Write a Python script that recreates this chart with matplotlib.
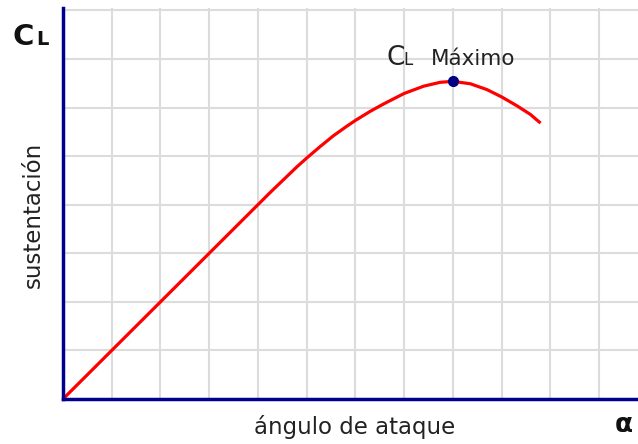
import numpy as np
import matplotlib.pyplot as plt

# curva de sustentacion
alpha = [0, 1, 2, 3, 4, 4.25, 4.52, 4.8, 5.0, 5.28, 5.55, 5.83, 6.0, 6.3,
         6.58, 7.0, 7.4, 7.74, 8.0, 8.36, 8.7, 9.0, 9.31, 9.59, 9.8]
cl = [0, 1, 2, 3, 4.0, 4.25, 4.51, 4.78, 4.96, 5.20, 5.42, 5.62, 5.735, 5.92,
      6.075, 6.29, 6.44, 6.52, 6.54, 6.49, 6.37, 6.22, 6.04, 5.86, 5.68]
alpha_max = 8
cl_max = 6.54

W, H = 638, 444
fig = plt.figure(figsize=(W / 100, H / 100), dpi=100)
ax = fig.add_axes([63 / W, 1 - 399 / H, 1 - 63 / W, (399 - 8) / H])

ax.set_xlim(0, 11.8)
ax.set_ylim(0, 8.05)
ax.set_xticks(np.arange(1, 12))
ax.set_yticks(np.arange(1, 9))
ax.tick_params(length=0, labelbottom=False, labelleft=False)
ax.grid(True, color='#dcdcdc', lw=1.5)
ax.set_axisbelow(True)

for s in ['top', 'right']:
    ax.spines[s].set_visible(False)
for s in ['left', 'bottom']:
    ax.spines[s].set_color('#00008b')
    ax.spines[s].set_linewidth(2.5)

ax.plot(alpha, cl, color='#ff0000', lw=2.3, solid_capstyle='butt',
        solid_joinstyle='round', clip_on=False)
ax.plot(alpha_max, cl_max, 'o', color='#000080', ms=7, zorder=5)

def px(x, y):
    return x / W, 1 - y / H

# textos
fig.text(*px(13, 45), 'C', fontsize=21, fontweight='bold', color='#111111', va='baseline')
fig.text(*px(36, 45), 'L', fontsize=14, fontweight='bold', color='#111111', va='baseline')

fig.text(*px(386, 65), 'C', fontsize=19, color='#222222', va='baseline')
fig.text(*px(403, 65), 'L', fontsize=12, color='#222222', va='baseline')
fig.text(*px(431, 65), 'Máximo', fontsize=15.5, color='#222222', va='baseline')

fig.text(*px(33, 215), 'sustentación', fontsize=16.5, color='#222222',
         rotation=90, ha='center', va='center')
fig.text(*px(355, 427), 'ángulo de ataque', fontsize=16.5, color='#222222',
         ha='center', va='center')
fig.text(*px(624, 425), 'α', fontsize=19, fontweight='bold', color='#111111',
         ha='center', va='center')

fig.savefig('out.png', dpi=100)
